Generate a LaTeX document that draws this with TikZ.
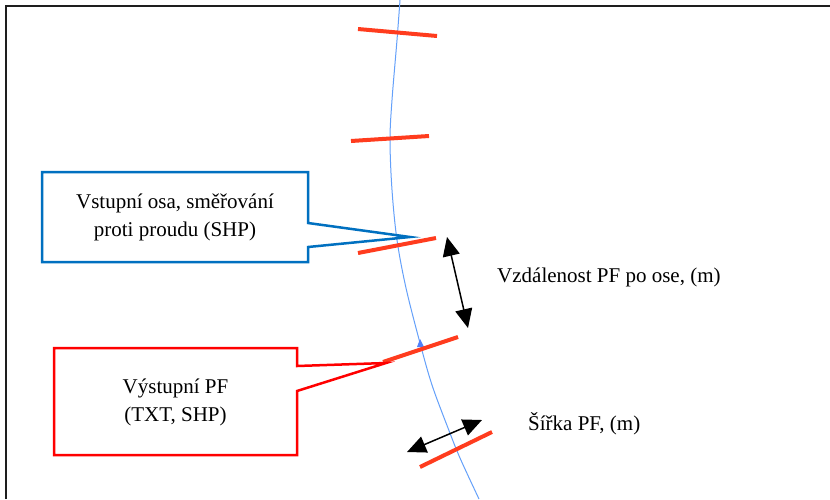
\documentclass[tikz,border=0pt]{standalone}
\usepackage{fontspec}
\setmainfont{Liberation Serif}
\usetikzlibrary{arrows.meta}
\definecolor{riverblue}{RGB}{100,160,250}
\definecolor{pfred}{RGB}{255,60,30}
\definecolor{callblue}{RGB}{0,112,192}
\definecolor{callred}{RGB}{255,0,0}
\definecolor{framegray}{RGB}{30,30,30}
\tikzset{
  pf/.style={draw=pfred,line width=4pt,line cap=butt},
  river/.style={draw=riverblue,line width=1pt},
  dim/.style={draw=black,line width=1.5pt,{Triangle[length=19pt,width=17pt]}-{Triangle[length=19pt,width=17pt]}},
  txt/.style={font=\fontsize{21}{28}\selectfont,inner sep=0pt,align=center},
  lbl/.style={font=\fontsize{21}{28}\selectfont,inner sep=0pt}
}
\begin{document}
\begin{tikzpicture}[x=1pt,y=-1pt]
\useasboundingbox (0,0) rectangle (830,499);
\fill[white] (0,0) rectangle (830,499);
% frame
\draw[framegray,line width=2pt] (6,499) -- (6,6) -- (830,6);
% river axis
\draw[river] plot[smooth,tension=0.55] coordinates {(400,0) (397,40) (392,100) (390,140) (392,190) (397,240) (406,288) (420,343) (432,385) (448,428) (460,458) (479,499)};
\fill[riverblue!80!blue] (420,339) -- (424,347) -- (417,347) -- cycle;
% PF cross sections
\draw[pf] (358,29) -- (437,36);
\draw[pf] (351,141) -- (429,136);
\draw[pf] (358,253) -- (436,238);
\draw[pf] (383,362) -- (458,337);
\draw[pf] (420,467) -- (492,432);
% callouts
\draw[callblue,line width=2.5pt,line join=miter] (42,172) -- (308,172) -- (308,223) -- (410,237) -- (308,247) -- (308,262) -- (42,262) -- cycle;
\node[txt] (inaxis) at (175,217) {Vstupní osa, směřování\\proti proudu (SHP)};
\draw[callred,line width=2.5pt,line join=miter] (54,348) -- (297,348) -- (297,366) -- (386,363) -- (297,391) -- (297,455) -- (54,455) -- cycle;
\node[txt] (outpf) at (175.5,402) {Výstupní PF\\(TXT, SHP)};
% dimension arrows
\coordinate (d1a) at (447,237);
\coordinate (d1b) at (468,328);
\draw[dim] (d1a) -- (d1b);
\coordinate (d2a) at (407,452);
\coordinate (d2b) at (482,420);
\draw[dim] (d2a) -- (d2b);
% labels
\node[lbl,anchor=base west] (dist) at (497,282) {Vzdálenost PF po ose, (m)};
\node[lbl,anchor=base west] (width) at (528,430) {Šířka PF, (m)};
\end{tikzpicture}
\end{document}
